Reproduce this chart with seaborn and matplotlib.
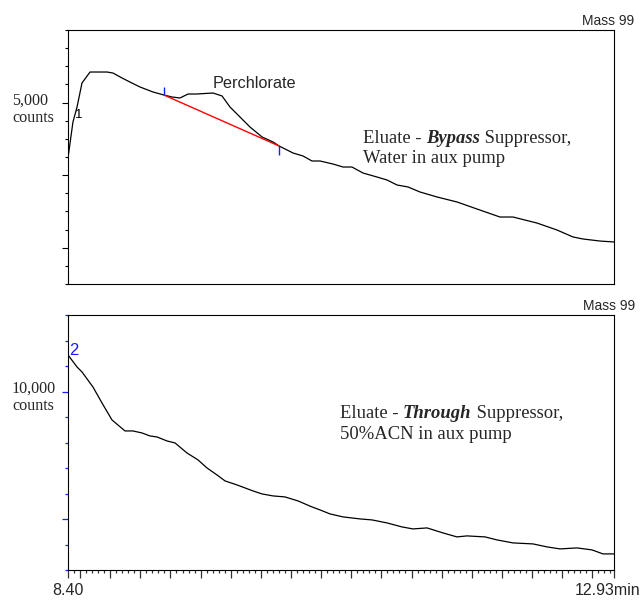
import numpy as np
import pandas as pd
import matplotlib
matplotlib.use("Agg")
import matplotlib.pyplot as plt
import seaborn as sns
from matplotlib.ticker import FixedLocator, MultipleLocator

# ---------------- data ----------------
top_time = [8.400, 8.441, 8.475, 8.516, 8.583, 8.724, 8.773, 8.848, 8.914, 8.997,
            9.105, 9.196, 9.263, 9.329, 9.396, 9.470, 9.603, 9.678, 9.744, 9.910,
            10.010, 10.101, 10.151, 10.267, 10.350, 10.424, 10.491, 10.599, 10.682, 10.756,
            10.848, 10.964, 11.047, 11.130, 11.221, 11.320, 11.462, 11.628, 11.794, 11.984,
            12.092, 12.291, 12.457, 12.590, 12.673, 12.814, 12.930]
top_counts = [4236, 4732, 4939, 5270, 5421, 5421, 5407, 5339, 5283, 5215,
              5146, 5104, 5077, 5063, 5118, 5118, 5132, 5091, 4939, 4663,
              4526, 4457, 4402, 4305, 4264, 4195, 4195, 4153, 4112, 4112,
              4029, 3974, 3933, 3864, 3837, 3768, 3699, 3630, 3533, 3423,
              3423, 3340, 3244, 3148, 3120, 3092, 3079]

bottom_time = [8.400, 8.475, 8.516, 8.607, 8.682, 8.765, 8.873, 8.939, 9.014, 9.080,
               9.138, 9.221, 9.288, 9.387, 9.479, 9.553, 9.636, 9.703, 9.802, 9.935,
               10.010, 10.101, 10.200, 10.308, 10.424, 10.491, 10.574, 10.682, 10.823, 10.922,
               11.047, 11.171, 11.262, 11.379, 11.511, 11.627, 11.710, 11.860, 11.959, 12.092,
               12.258, 12.374, 12.482, 12.623, 12.747, 12.839, 12.930]
bottom_counts = [11432, 10962, 10766, 10178, 9550, 8884, 8453, 8453, 8374, 8257,
                 8218, 8061, 7982, 7590, 7316, 7002, 6728, 6493, 6336, 6101,
                 5983, 5905, 5866, 5709, 5474, 5356, 5199, 5082, 5003, 4964,
                 4846, 4689, 4611, 4650, 4454, 4298, 4337, 4298, 4180, 4062,
                 4023, 3906, 3827, 3866, 3788, 3631, 3631]

baseline_time = [9.196, 10.151]
baseline_counts = [5104, 4402]

x_start, x_end = 8.40, 12.93
x_start_label, x_end_label = "8.40", "12.93min"
top_ylim = (2500, 6000)
bottom_ylim = (3000, 13000)
top_label = ["5,000", "counts"]
bottom_label = ["10,000", "counts"]
peak_name = "Perchlorate"
mass_label = "Mass 99"

# ---------------- style ----------------
sns.set_style("white")
plt.rcParams['font.family'] = ['Liberation Sans', 'DejaVu Sans']
SERIF = ['Liberation Serif', 'DejaVu Serif']
BLUE = '#1a1aff'

W, H = 642, 600
fig = plt.figure(figsize=(W / 100, H / 100), dpi=100)
fig.patch.set_facecolor('white')


def fx(x):
    return x / W


def fy(y):
    return 1 - y / H


ax1 = fig.add_axes([fx(68), fy(284), fx(614) - fx(68), fy(30) - fy(284)])
ax2 = fig.add_axes([fx(68), fy(570), fx(614) - fx(68), fy(315) - fy(570)])

top_df = pd.DataFrame({"time": top_time, "counts": top_counts})
bot_df = pd.DataFrame({"time": bottom_time, "counts": bottom_counts})
base_df = pd.DataFrame({"time": baseline_time, "counts": baseline_counts})

sns.lineplot(data=top_df, x="time", y="counts", ax=ax1, color='black', lw=0.9,
             estimator=None, sort=False)
sns.lineplot(data=base_df, x="time", y="counts", ax=ax1, color='#ff0000', lw=1.0,
             estimator=None, sort=False)
sns.lineplot(data=bot_df, x="time", y="counts", ax=ax2, color='black', lw=0.9,
             estimator=None, sort=False)

# peak start / end marks
ax1.vlines([baseline_time[0]], baseline_counts[0], baseline_counts[0] + 115, color=BLUE, lw=1.0)
ax1.vlines([baseline_time[1]], baseline_counts[1] - 125, baseline_counts[1], color=BLUE, lw=1.0)

for ax in (ax1, ax2):
    ax.set_xlim(x_start, x_end)
    ax.set_xlabel("")
    ax.set_ylabel("")
    ax.set_facecolor('white')
    for s in ax.spines.values():
        s.set_visible(True)
        s.set_color('black')
        s.set_linewidth(0.8)

ax1.set_ylim(*top_ylim)
ax2.set_ylim(*bottom_ylim)

# top panel ticks
ax1.set_xticks([])
ax1.yaxis.set_major_locator(FixedLocator([3000, 4000, 5000]))
ax1.yaxis.set_minor_locator(MultipleLocator(250))
ax1.tick_params(axis='y', which='major', length=4, width=0.8, color='black',
                direction='out', left=True, labelleft=False)
ax1.tick_params(axis='y', which='minor', length=2.2, width=0.8, color='black',
                direction='out', left=True)

# bottom panel ticks
ax2.yaxis.set_major_locator(FixedLocator([5000, 10000]))
ax2.yaxis.set_minor_locator(MultipleLocator(1000))
ax2.tick_params(axis='y', which='major', length=4, width=0.9, color=BLUE,
                direction='out', left=True, labelleft=False)
ax2.tick_params(axis='y', which='minor', length=2.2, width=0.9, color=BLUE,
                direction='out', left=True)

major_x = [x_start] + list(np.round(np.arange(8.5, 12.80, 0.25), 2)) + [x_end]
minor_x = [v for v in np.round(np.arange(8.45, 12.93, 0.05), 2)
           if not any(abs(v - m) < 1e-6 for m in major_x)]
ax2.xaxis.set_major_locator(FixedLocator(major_x))
ax2.xaxis.set_minor_locator(FixedLocator(minor_x))
ax2.tick_params(axis='x', which='major', length=6, width=0.9, color='#333333',
                direction='out', bottom=True, labelbottom=False)
ax2.tick_params(axis='x', which='minor', length=2.5, width=0.9, color='#333333',
                direction='out', bottom=True)

# ---------------- text ----------------
fig.text(fx(634), fy(25), mass_label, ha='right', va='baseline', fontsize=10)
fig.text(fx(635), fy(310), mass_label, ha='right', va='baseline', fontsize=10)

fig.text(fx(12), fy(105), top_label[0], ha='left', va='baseline', fontsize=11.6, family=SERIF)
fig.text(fx(12), fy(122), top_label[1], ha='left', va='baseline', fontsize=11.6, family=SERIF)
fig.text(fx(12), fy(393), bottom_label[0], ha='left', va='baseline', fontsize=11.6, family=SERIF)
fig.text(fx(12), fy(410), bottom_label[1], ha='left', va='baseline', fontsize=11.6, family=SERIF)

fig.text(fx(213), fy(88), peak_name, ha='left', va='baseline', fontsize=11.7)
fig.text(fx(75), fy(118), "1", ha='left', va='baseline', fontsize=9.5, color='black')
fig.text(fx(69), fy(355), "2", ha='left', va='baseline', fontsize=12, color=BLUE)

fig.text(fx(68), fy(595), x_start_label, ha='center', va='baseline', fontsize=11.5)
fig.text(fx(575), fy(595), x_end_label, ha='left', va='baseline', fontsize=11.5)


def rich_line(ax, x, y, parts, size):
    first, kw = parts[0]
    t = fig.text(x, y, first, ha='left', va='baseline', fontsize=size, family=SERIF, **kw)
    for s, kw in parts[1:]:
        t = ax.annotate(s, xy=(1, 0), xycoords=t, xytext=(0, 0), textcoords='offset points',
                        ha='left', va='bottom', fontsize=size, family=SERIF,
                        annotation_clip=False, clip_on=False, zorder=10, **kw)
    return t


TSIZE = 13.4
BI = dict(fontweight='bold', fontstyle='italic')
rich_line(ax1, fx(363), fy(143), [("Eluate - ", {}), ("Bypass", BI), (" Suppressor,", {})], TSIZE)
fig.text(fx(363), fy(163), "Water in aux pump", ha='left', va='baseline', fontsize=TSIZE, family=SERIF)
rich_line(ax2, fx(340), fy(418), [("Eluate - ", {}), ("Through", BI), (" Suppressor,", {})], TSIZE)
fig.text(fx(340), fy(439), "50%ACN in aux pump", ha='left', va='baseline', fontsize=TSIZE, family=SERIF)

fig.savefig("out.png", dpi=100, facecolor='white')
